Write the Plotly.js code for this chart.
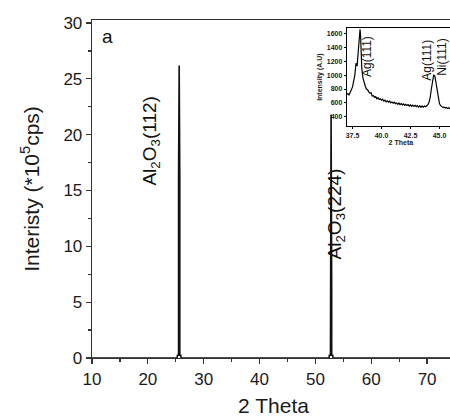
<!DOCTYPE html>
<html>
<head>
<meta charset="utf-8">
<script src="https://cdn.plot.ly/plotly-3.0.1.min.js"></script>
<style>
html,body{margin:0;padding:0;overflow:hidden;background:#fff;width:450px;height:418px;}
#chart{width:460px;height:418px;}
</style>
</head>
<body>
<div id="chart"></div>
<script>
// Main XRD pattern (2 Theta vs intensity, *10^5 cps)
const mainX = [10, 25.25, 25.3, 25.5, 25.5, 25.61, 25.72, 25.72, 25.9, 25.95, 52.45, 52.5, 52.7, 52.7, 52.81, 52.92, 52.92, 53.1, 53.15, 75];
const mainY = [0, 0, 0.25, 0.25, 16.1, 26.2, 16.1, 0.25, 0.25, 0, 0, 0.25, 0.25, 6.3, 21.8, 6.3, 0.25, 0.25, 0, 0];

// Inset pattern (2 Theta vs intensity, A.U)
const insetX = [37.0,37.1,37.2,37.3,37.4,37.5,37.6,37.7,37.8,37.9,38.0,38.1,38.15,38.2,38.3,38.4,38.5,38.6,38.7,38.8,38.9,39.0,39.1,39.2,39.3,39.4,39.5,39.6,39.7,39.8,39.9,40.0,40.1,40.2,40.3,40.4,40.5,40.6,40.7,40.8,40.9,41.0,41.1,41.2,41.3,41.4,41.5,41.6,41.7,41.8,41.9,42.0,42.1,42.2,42.3,42.4,42.5,42.6,42.7,42.8,42.9,43.0,43.1,43.2,43.3,43.4,43.5,43.6,43.7,43.8,43.9,44.0,44.1,44.2,44.3,44.4,44.5,44.6,44.7,44.8,44.9,45.0,45.1,45.2,45.3,45.4,45.5,45.6,45.7,45.8,45.9,46.0,46.1,46.2,46.3];
const insetY = [720,735,715,745,790,830,900,1000,1170,1130,1350,1620,1660,1550,1100,960,880,840,800,790,760,740,745,700,705,680,690,660,675,650,660,640,655,625,640,615,630,610,625,600,615,595,610,590,600,580,598,575,590,570,585,565,580,562,575,555,572,552,568,550,565,545,562,540,558,538,556,540,555,545,560,575,610,680,800,900,1000,990,880,760,650,590,560,545,535,540,525,535,520,530,515,525,512,520,510];

const xTicksMain = [10, 20, 30, 40, 50, 60, 70];
const yTicksMain = [0, 5, 10, 15, 20, 25, 30];
const xTicksInset = [37.5, 40, 42.5, 45];
const xTickTextInset = ["37.5", "40.0", "42.5", "45.0"];
const yTicksInset = [400, 600, 800, 1000, 1200, 1400, 1600];

const font = "Liberation Sans, Arial, sans-serif";

const data = [
  {x: mainX, y: mainY, type: 'scatter', mode: 'lines', xaxis: 'x', yaxis: 'y',
   line: {color: '#111', width: 1.6}, hoverinfo: 'skip'},
  {x: insetX, y: insetY, type: 'scatter', mode: 'lines', xaxis: 'x2', yaxis: 'y2',
   line: {color: '#000', width: 1.2}, hoverinfo: 'skip'}
];

const layout = {
  width: 460, height: 418,
  margin: {l: 92, r: 5, t: 20, b: 60},
  paper_bgcolor: '#fff', plot_bgcolor: '#fff',
  showlegend: false,
  font: {family: font, color: '#1a1a1a'},
  xaxis: {
    domain: [0, 1], range: [10, 75], tickvals: xTicksMain,
    ticks: 'outside', ticklen: 5, tickwidth: 1.2, tickcolor: '#333',
    minor: {dtick: 5, ticks: 'outside', ticklen: 3, tickcolor: '#333', tickwidth: 1.2},
    showline: true, linecolor: '#333', linewidth: 1.3, mirror: true,
    showgrid: false, zeroline: false,
    tickfont: {size: 17, family: font, color: '#1a1a1a'},
    title: {text: '2 Theta', font: {size: 21, family: font, color: '#1a1a1a'}, standoff: 10}
  },
  yaxis: {
    domain: [0, 1], range: [0, 30.27], tickvals: yTicksMain,
    ticks: 'outside', ticklen: 5, tickwidth: 1.2, tickcolor: '#333',
    minor: {dtick: 2.5, ticks: 'outside', ticklen: 3, tickcolor: '#333', tickwidth: 1.2},
    showline: true, linecolor: '#333', linewidth: 1.3, mirror: true,
    showgrid: false, zeroline: false,
    tickfont: {size: 17, family: font, color: '#1a1a1a'},
    title: {text: 'Interisty (*10<sup>5</sup>cps)', font: {size: 21, family: font, color: '#1a1a1a'}, standoff: 18}
  },
  xaxis2: {
    anchor: 'y2', domain: [0.7017, 1], range: [37, 46.34],
    tickvals: xTicksInset, ticktext: xTickTextInset,
    ticks: 'outside', ticklen: 2, tickwidth: 1, tickcolor: '#000',
    showline: true, linecolor: '#000', linewidth: 1, mirror: true,
    showgrid: false, zeroline: false,
    tickfont: {size: 7, family: font, color: '#1a1a1a', weight: 'bold'},
    title: {text: '2 Theta', font: {size: 7, family: font, color: '#1a1a1a', weight: 'bold'}, standoff: 2}
  },
  yaxis2: {
    anchor: 'x2', domain: [0.686, 0.976], range: [266, 1676],
    tickvals: yTicksInset,
    ticks: 'outside', ticklen: 2, tickwidth: 1, tickcolor: '#000',
    showline: true, linecolor: '#000', linewidth: 1, mirror: true,
    showgrid: false, zeroline: false,
    tickfont: {size: 7, family: font, color: '#1a1a1a', weight: 'bold'},
    title: {text: 'Intensity (A.U)', font: {size: 7, family: font, color: '#1a1a1a', weight: 'bold'}, standoff: 3}
  },
  annotations: [
    {xref: 'paper', yref: 'paper', x: 0.042, y: 0.95, text: 'a', showarrow: false,
     font: {size: 19, family: font, color: '#111'}, xanchor: 'center', yanchor: 'middle'},
    {xref: 'x', yref: 'y', x: 20.6, y: 19.4, text: 'Al<sub>2</sub>O<sub>3</sub>(112)', textangle: -90, showarrow: false,
     font: {size: 19, family: font, color: '#111'}, xanchor: 'center', yanchor: 'middle'},
    {xref: 'x', yref: 'y', x: 53.6, y: 12.9, text: 'Al<sub>2</sub>O<sub>3</sub>(224)', textangle: -90, showarrow: false,
     font: {size: 19, family: font, color: '#111'}, xanchor: 'center', yanchor: 'middle'},
    {xref: 'x2', yref: 'y2', x: 38.75, y: 1260, text: 'Ag(111)', textangle: -90, showarrow: false,
     font: {size: 12, family: font, color: '#111'}, xanchor: 'center', yanchor: 'middle'},
    {xref: 'x2', yref: 'y2', x: 43.9, y: 1217, text: 'Ag(111)', textangle: -90, showarrow: false,
     font: {size: 12, family: font, color: '#111'}, xanchor: 'center', yanchor: 'middle'},
    {xref: 'x2', yref: 'y2', x: 45.2, y: 1260, text: 'Ni(111)', textangle: -90, showarrow: false,
     font: {size: 12, family: font, color: '#111'}, xanchor: 'center', yanchor: 'middle'}
  ]
};

Plotly.newPlot('chart', data, layout, {displayModeBar: false, staticPlot: true});
</script>
</body>
</html>
